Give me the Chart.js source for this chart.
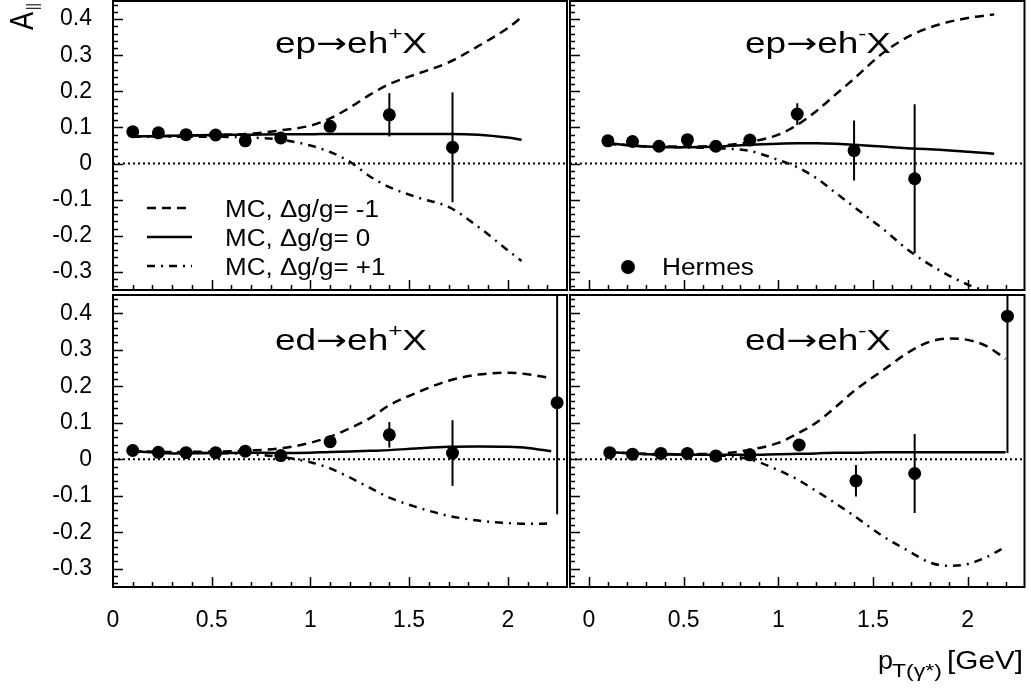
<!DOCTYPE html>
<html>
<head>
<meta charset="utf-8">
<script src="https://cdn.jsdelivr.net/npm/chart.js@4.4.1/dist/chart.umd.min.js"></script>
<style>
  html, body { margin: 0; padding: 0; background: #fff; }
  #wrap { position: relative; width: 1031px; height: 691px; overflow: hidden; }
  canvas { position: absolute; left: 0; top: -20px; }
</style>
</head>
<body>
<div id="wrap">
  <canvas id="c1" width="1031" height="731"></canvas>
  <canvas id="c2" width="1031" height="731"></canvas>
  <canvas id="c3" width="1031" height="731"></canvas>
  <canvas id="c4" width="1031" height="731"></canvas>
</div>
<script>
// tick labels
const xTicks = [0, 0.5, 1, 1.5, 2];
const yTicks = [-0.3, -0.2, -0.1, 0, 0.1, 0.2, 0.3, 0.4];

// Hermes data points (pT, A_parallel, error)
const epX = [0.10, 0.23, 0.37, 0.52, 0.67, 0.85, 1.10, 1.40, 1.72];
const epPosA = [0.088, 0.085, 0.080, 0.079, 0.063, 0.071, 0.103, 0.135, 0.045];
const epPosErr = [0.008, 0.008, 0.008, 0.008, 0.008, 0.010, 0.015, 0.060, 0.152];
const epNegA = [0.063, 0.061, 0.048, 0.066, 0.048, 0.065, 0.137, 0.036, -0.042];
const epNegErr = [0.008, 0.008, 0.008, 0.008, 0.008, 0.010, 0.030, 0.083, 0.206];

const edPosX = [0.10, 0.23, 0.37, 0.52, 0.67, 0.85, 1.10, 1.40, 1.72, 2.25];
const edPosA = [0.024, 0.019, 0.018, 0.018, 0.022, 0.010, 0.048, 0.067, 0.017, 0.155];
const edPosErr = [0.006, 0.006, 0.006, 0.006, 0.006, 0.008, 0.012, 0.035, 0.090, 0.306];
const edNegX = [0.11, 0.23, 0.38, 0.52, 0.67, 0.85, 1.11, 1.41, 1.72, 2.21];
const edNegA = [0.018, 0.014, 0.016, 0.016, 0.009, 0.012, 0.039, -0.059, -0.039, 0.392];
const edNegErr = [0.006, 0.006, 0.006, 0.006, 0.006, 0.008, 0.012, 0.043, 0.108, 0.375];

// MC curves: dg/g = -1 (dashed), 0 (solid), +1 (dash-dot)
const epPosMcX = [0.1, 0.3, 0.5, 0.7, 0.85, 1.0, 1.1, 1.2, 1.3, 1.4, 1.55, 1.7, 1.85, 2.0, 2.07];
const epPosMinus = [0.075, 0.076, 0.079, 0.083, 0.092, 0.105, 0.125, 0.155, 0.19, 0.22, 0.25, 0.28, 0.325, 0.375, 0.405];
const epPosZero = [0.075, 0.077, 0.079, 0.080, 0.081, 0.081, 0.082, 0.082, 0.082, 0.082, 0.082, 0.082, 0.080, 0.072, 0.066];
const epPosPlus = [0.075, 0.074, 0.074, 0.072, 0.066, 0.050, 0.032, 0.005, -0.035, -0.065, -0.095, -0.12, -0.175, -0.24, -0.27];

const epNegMcX = [0.1, 0.3, 0.5, 0.7, 0.85, 1.0, 1.1, 1.2, 1.3, 1.4, 1.55, 1.7, 1.85, 2.0, 2.14];
const epNegMinus = [0.055, 0.048, 0.047, 0.050, 0.060, 0.080, 0.107, 0.145, 0.19, 0.235, 0.305, 0.355, 0.385, 0.403, 0.413];
const epNegZero = [0.056, 0.047, 0.045, 0.047, 0.052, 0.055, 0.056, 0.056, 0.055, 0.052, 0.047, 0.042, 0.038, 0.033, 0.027];
const epNegPlus = [0.055, 0.047, 0.045, 0.042, 0.035, 0.010, -0.010, -0.040, -0.080, -0.120, -0.180, -0.245, -0.295, -0.335, -0.36];

const edPosMcX = [0.1, 0.3, 0.5, 0.7, 0.85, 1.0, 1.1, 1.2, 1.3, 1.4, 1.55, 1.7, 1.85, 2.0, 2.1, 2.22];
const edPosMinus = [0.022, 0.020, 0.021, 0.024, 0.030, 0.045, 0.062, 0.085, 0.112, 0.148, 0.185, 0.215, 0.232, 0.237, 0.233, 0.222];
const edPosZero = [0.022, 0.016, 0.017, 0.018, 0.017, 0.018, 0.020, 0.021, 0.023, 0.025, 0.030, 0.034, 0.035, 0.034, 0.031, 0.022];
const edPosPlus = [0.022, 0.019, 0.017, 0.014, 0.006, -0.008, -0.025, -0.050, -0.078, -0.105, -0.133, -0.155, -0.168, -0.175, -0.177, -0.176];

const edNegMcX = [0.1, 0.3, 0.5, 0.7, 0.85, 1.0, 1.1, 1.2, 1.3, 1.4, 1.55, 1.7, 1.8, 1.9, 2.0, 2.1, 2.2];
const edNegMinus = [0.020, 0.015, 0.014, 0.016, 0.026, 0.045, 0.070, 0.100, 0.142, 0.187, 0.243, 0.297, 0.322, 0.331, 0.327, 0.310, 0.275];
const edNegZero = [0.020, 0.014, 0.013, 0.012, 0.012, 0.014, 0.015, 0.016, 0.018, 0.018, 0.019, 0.019, 0.019, 0.019, 0.019, 0.019, 0.019];
const edNegPlus = [0.020, 0.014, 0.013, 0.010, 0.000, -0.030, -0.055, -0.087, -0.120, -0.155, -0.210, -0.255, -0.283, -0.292, -0.287, -0.268, -0.240];

const legendLabels = ['MC, \u0394g/g= -1', 'MC, \u0394g/g= 0', 'MC, \u0394g/g= +1'];

const FONT = '"Liberation Sans", Arial, Helvetica, sans-serif';
const ARROW_FONT = '"DejaVu Sans", sans-serif';
const DASH = [9, 6];
const DASHDOT = [8, 6, 2, 6];
const DOT = [2, 3];
const OFF = 20;            // canvases start 20px above the page so nothing gets clamped at the top
const CANVAS_H = 731;

// draw a run of text pieces, squeezed/stretched horizontally to a given width
function drawParts(ctx, parts, left, base, width, sxFixed) {
    let total = 0;
    parts.forEach(p => {
        ctx.font = p.size + 'px ' + (p.family || FONT);
        p.w = ctx.measureText(p.t).width;
        total += p.w;
    });
    const sx = sxFixed || (width ? width / total : 1);
    ctx.save();
    ctx.translate(left, base);
    ctx.scale(sx, 1);
    let x = 0;
    parts.forEach(p => {
        ctx.font = p.size + 'px ' + (p.family || FONT);
        ctx.fillText(p.t, x, p.dy || 0);
        x += p.w;
    });
    ctx.restore();
    return sx;
}

function drawLineSample(ctx, x1, x2, y, dash) {
    ctx.save();
    ctx.beginPath();
    ctx.setLineDash(dash);
    ctx.lineWidth = 2.5;
    ctx.moveTo(x1, y);
    ctx.lineTo(x2, y);
    ctx.stroke();
    ctx.restore();
}

const panelPlugin = {
    id: 'panel',
    beforeDatasetsDraw(chart) {
        // error bars of the Hermes points
        const ctx = chart.ctx, a = chart.chartArea;
        const xs = chart.scales.x, ys = chart.scales.y;
        ctx.save();
        ctx.beginPath();
        ctx.rect(a.left, a.top, a.right - a.left, a.bottom - a.top);
        ctx.clip();
        ctx.strokeStyle = '#000';
        ctx.lineWidth = 2;
        chart.data.datasets.forEach(ds => {
            if (!ds.errors) return;
            ds.data.forEach((p, i) => {
                const px = xs.getPixelForValue(p.x);
                ctx.beginPath();
                ctx.moveTo(px, ys.getPixelForValue(p.y - ds.errors[i]));
                ctx.lineTo(px, ys.getPixelForValue(p.y + ds.errors[i]));
                ctx.stroke();
            });
        });
        ctx.restore();
    },
    afterDraw(chart, args, opts) {
        const ctx = chart.ctx, a = chart.chartArea;
        const xs = chart.scales.x, ys = chart.scales.y;
        ctx.save();
        ctx.strokeStyle = '#000';
        ctx.fillStyle = '#000';
        // inward ticks on the left and bottom sides
        ctx.lineWidth = 1.5;
        ctx.beginPath();
        for (let k = -17; k <= 22; k++) {
            const v = k * 0.02;
            if (v < ys.min || v > ys.max) continue;
            const py = Math.round(ys.getPixelForValue(v)) + 0.5;
            const len = (k % 5 === 0) ? 10 : 5;
            ctx.moveTo(a.left, py);
            ctx.lineTo(a.left + len, py);
        }
        for (let k = 0; k <= 23; k++) {
            const v = k * 0.1;
            if (v <= xs.min || v >= xs.max) continue;
            const px = Math.round(xs.getPixelForValue(v)) + 0.5;
            const len = (k % 5 === 0) ? 10 : 5;
            ctx.moveTo(px, a.bottom);
            ctx.lineTo(px, a.bottom - len);
        }
        ctx.stroke();
        // frame
        ctx.lineWidth = 2;
        ctx.strokeRect(a.left, a.top, a.right - a.left, a.bottom - a.top);

        // texts, in page coordinates
        ctx.translate(0, OFF);
        const t = opts.title;
        drawParts(ctx, [
            { t: t.main, size: 29 },
            { t: '\u2192', size: 29, family: ARROW_FONT },
            { t: 'eh', size: 29 },
            { t: t.sup, size: 19, dy: -13 },
            { t: 'X', size: 29 }
        ], t.left, t.base, t.width);

        if (opts.mcLegend) {
            const dashes = [DASH, [], DASHDOT];
            let sx = null;
            legendLabels.forEach((lab, i) => {
                const base = 217 + i * 29;
                drawLineSample(ctx, 147, 192, base - 9, dashes[i]);
                sx = drawParts(ctx, [{ t: lab, size: 23 }], 225, base, 154, sx);
            });
        }
        if (opts.hermesLegend) {
            ctx.beginPath();
            ctx.arc(628, 267, 7, 0, Math.PI * 2);
            ctx.fill();
            drawParts(ctx, [{ t: 'Hermes', size: 23 }], 662, 275, 92);
        }
        if (opts.yTitle) {
            ctx.save();
            ctx.translate(33, 30);
            ctx.rotate(-Math.PI / 2);
            ctx.scale(1, 1.2);
            ctx.font = '27px ' + FONT;
            ctx.fillText('A', 0, 0);
            ctx.font = '13px ' + FONT;
            ctx.fillText('||', 20, 4);
            ctx.restore();
        }
        if (opts.xTitle) {
            drawParts(ctx, [{ t: 'p', size: 26 }], 878, 669, 15);
            drawParts(ctx, [{ t: 'T(\u03b3*)', size: 18 }], 892, 677, 50);
            drawParts(ctx, [{ t: '[GeV]', size: 26 }], 947, 669, 76);
        }
        ctx.restore();
    }
};

function curve(xs, ys, dash) {
    return {
        data: xs.map((x, i) => ({ x: x, y: ys[i] })),
        showLine: true,
        borderColor: '#000',
        borderWidth: 2.5,
        borderDash: dash,
        pointRadius: 0,
        fill: false,
        cubicInterpolationMode: 'monotone',
        clip: 0,
        order: 2
    };
}

function makePanel(id, p) {
    // plot area in canvas coordinates
    const a = { left: p.area.left, right: p.area.right, top: p.area.top + OFF, bottom: p.area.bottom + OFF };
    const yAxisW = 100, xAxisH = 80;
    // both axes are always laid out; labels are hidden (transparent) where the reference has none
    const padding = {
        left: a.left - yAxisW,
        top: a.top,
        right: 1031 - a.right,
        bottom: CANVAS_H - a.bottom - xAxisH
    };
    const datasets = [
        {
            data: p.hx.map((x, i) => ({ x: x, y: p.hy[i] })),
            errors: p.herr,
            showLine: false,
            pointRadius: 6.5,
            pointBackgroundColor: '#000',
            pointBorderWidth: 0,
            order: 0
        },
        curve(p.mcX, p.mc[0], DASH),
        curve(p.mcX, p.mc[1], []),
        curve(p.mcX, p.mc[2], DASHDOT),
        {
            // A = 0 reference line
            data: [{ x: p.xMin, y: 0 }, { x: p.xMax, y: 0 }],
            showLine: true,
            borderColor: '#000',
            borderWidth: 2,
            borderDash: DOT,
            pointRadius: 0,
            order: 3
        }
    ];
    const zeroPad = s => { s.paddingLeft = 0; s.paddingRight = 0; s.paddingTop = 0; s.paddingBottom = 0; };
    const chart = new Chart(document.getElementById(id), {
        type: 'scatter',
        data: { datasets: datasets },
        options: {
            responsive: false,
            animation: false,
            devicePixelRatio: 1,
            events: [],
            layout: { padding: padding },
            plugins: {
                legend: { display: false },
                tooltip: { enabled: false },
                panel: p.deco
            },
            scales: {
                x: {
                    type: 'linear',
                    min: p.xMin,
                    max: p.xMax,
                    grid: { display: false, drawTicks: false },
                    border: { display: false },
                    afterBuildTicks: s => { s.ticks = xTicks.map(v => ({ value: v })); },
                    afterFit: s => { s.height = xAxisH; zeroPad(s); },
                    ticks: {
                        color: p.showX ? '#000' : 'rgba(0,0,0,0)',
                        padding: 20,
                        maxRotation: 0,
                        autoSkip: false,
                        font: { family: FONT, size: 23 },
                        callback: v => String(v)
                    }
                },
                y: {
                    type: 'linear',
                    min: -0.35,
                    max: 0.45,
                    grid: { display: false, drawTicks: false },
                    border: { display: false },
                    afterBuildTicks: s => { s.ticks = yTicks.map(v => ({ value: v })); },
                    afterFit: s => { s.width = yAxisW; zeroPad(s); },
                    ticks: {
                        color: p.showY ? '#000' : 'rgba(0,0,0,0)',
                        padding: 21,
                        autoSkip: false,
                        font: { family: FONT, size: 23 },
                        callback: v => (Math.abs(v) < 1e-9 ? '0' : v.toFixed(1))
                    }
                }
            }
        },
        plugins: [panelPlugin]
    });
    // nudge the layout padding so the plot area lands exactly where the reference has it
    for (let pass = 0; pass < 2; pass++) {
        const ca = chart.chartArea;
        const dTop = ca.top - a.top, dBottom = a.bottom - ca.bottom;
        const dLeft = ca.left - a.left, dRight = a.right - ca.right;
        if (Math.abs(dTop) + Math.abs(dBottom) + Math.abs(dLeft) + Math.abs(dRight) < 0.5) break;
        const pad = chart.options.layout.padding;
        pad.top -= dTop; pad.bottom -= dBottom; pad.left -= dLeft; pad.right -= dRight;
        chart.update();
    }
    return chart;
}

makePanel('c1', {
    area: { left: 113, top: 1, right: 567, bottom: 290 },
    xMin: 0, xMax: 2.3, showX: false, showY: true,
    hx: epX, hy: epPosA, herr: epPosErr,
    mcX: epPosMcX, mc: [epPosMinus, epPosZero, epPosPlus],
    deco: { title: { main: 'ep', sup: '+', left: 275, base: 53, width: 152 }, mcLegend: true, yTitle: true }
});
makePanel('c2', {
    area: { left: 570, top: 1, right: 1025, bottom: 290 },
    xMin: -0.1, xMax: 2.3, showX: false, showY: false,
    hx: epX, hy: epNegA, herr: epNegErr,
    mcX: epNegMcX, mc: [epNegMinus, epNegZero, epNegPlus],
    deco: { title: { main: 'ep', sup: '-', left: 745, base: 53, width: 146 }, hermesLegend: true }
});
makePanel('c3', {
    area: { left: 113, top: 295, right: 567, bottom: 587 },
    xMin: 0, xMax: 2.3, showX: true, showY: true,
    hx: edPosX, hy: edPosA, herr: edPosErr,
    mcX: edPosMcX, mc: [edPosMinus, edPosZero, edPosPlus],
    deco: { title: { main: 'ed', sup: '+', left: 275, base: 350, width: 152 } }
});
makePanel('c4', {
    area: { left: 570, top: 295, right: 1025, bottom: 587 },
    xMin: -0.1, xMax: 2.3, showX: true, showY: false,
    hx: edNegX, hy: edNegA, herr: edNegErr,
    mcX: edNegMcX, mc: [edNegMinus, edNegZero, edNegPlus],
    deco: { title: { main: 'ed', sup: '-', left: 745, base: 350, width: 146 }, xTitle: true }
});
</script>
</body>
</html>
